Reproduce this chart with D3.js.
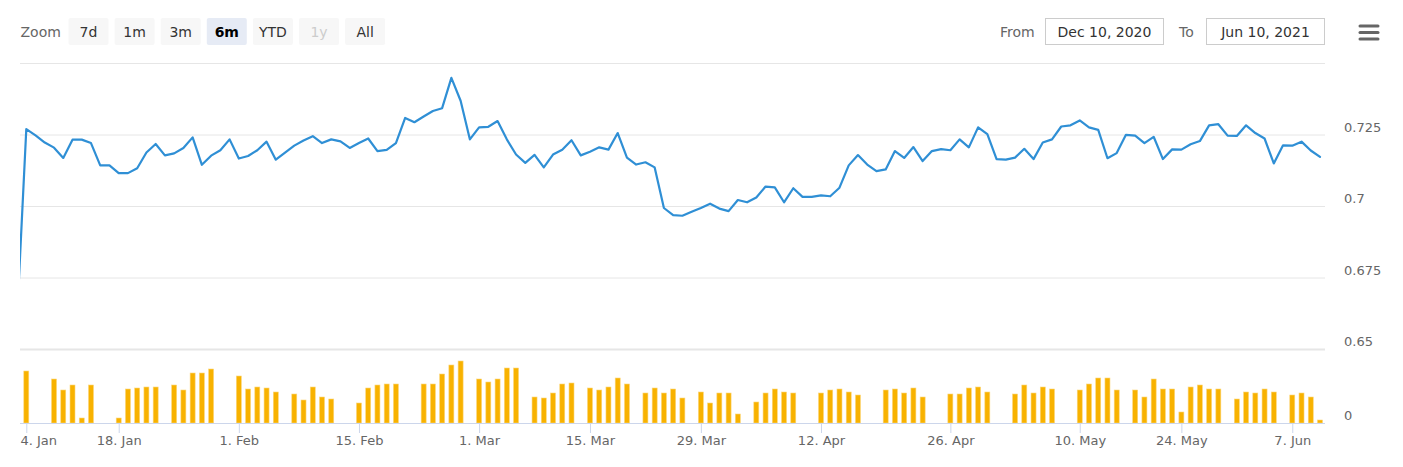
<!DOCTYPE html>
<html>
<head>
<meta charset="utf-8">
<script src="https://cdn.jsdelivr.net/npm/d3@7"></script>
<style>
  body { margin: 0; background: #fff; }
  .main svg { display: block; font-family: "DejaVu Sans", Verdana, sans-serif; }
</style>
</head>
<body>
<div class="main"></div>
<script>
const width = 1403;
const height = 467;
const plot = ({left: 20, right: 1325, top: 62, bottom: 423})

// range selector
const zoomButtons = ['7d', '1m', '3m', '6m', 'YTD', '1y', 'All'];
const selectedButton = '6m';
const disabledButton = '1y';
const dateFrom = 'Dec 10, 2020';
const dateTo = 'Jun 10, 2021';

// x axis (ordinal: one slot per data point, slot 0 is the clipped lead point)
const tickSlots = [1, 11, 24, 37, 50, 62, 74, 87, 101, 115, 126, 138];
const tickLabels = ['4. Jan', '18. Jan', '1. Feb', '15. Feb', '1. Mar', '15. Mar', '29. Mar', '12. Apr', '26. Apr', '10. May', '24. May', '7. Jun'];

// price axis
const priceTicks = [0.65, 0.675, 0.7, 0.725, 0.75];
const priceLabels = ['0.65', '0.675', '0.7', '0.725', ''];

// closing rate per slot
const rate = [
  0.661,
  0.7269, 0.7247, 0.7222, 0.7204, 0.7168, 0.7232, 0.7232, 0.7220, 0.7142, 0.7142,
  0.7115, 0.7115, 0.7132, 0.7187, 0.7217, 0.7177, 0.7184, 0.7203, 0.7240, 0.7144,
  0.7176, 0.7195, 0.7233, 0.7166, 0.7175, 0.7195, 0.7225, 0.7162, 0.7187, 0.7211,
  0.7229, 0.7244, 0.7220, 0.7233, 0.7226, 0.7203, 0.7220, 0.7236, 0.7192, 0.7196,
  0.7220, 0.7308, 0.7293, 0.7313, 0.7332, 0.7342, 0.7448, 0.7368, 0.7233, 0.7275,
  0.7277, 0.7297, 0.7233, 0.7180, 0.7151, 0.7179, 0.7135, 0.7180, 0.7197, 0.7230,
  0.7177, 0.7190, 0.7205, 0.7197, 0.7255, 0.7169, 0.7145, 0.7153, 0.7135, 0.6993,
  0.6968, 0.6966, 0.6980, 0.6993, 0.7008, 0.6991, 0.6982, 0.7021, 0.7013, 0.7030,
  0.7068, 0.7065, 0.7013, 0.7062, 0.7032, 0.7032, 0.7037, 0.7034, 0.7064, 0.7142,
  0.7178, 0.7145, 0.7122, 0.7128, 0.7192, 0.7168, 0.7206, 0.7157, 0.7192, 0.7199,
  0.7195, 0.7233, 0.7205, 0.7275, 0.7251, 0.7164, 0.7162, 0.7169, 0.7200, 0.7164,
  0.7222, 0.7233, 0.7278, 0.7282, 0.7299, 0.7275, 0.7266, 0.7167, 0.7185, 0.7249,
  0.7246, 0.7220, 0.7242, 0.7164, 0.7198, 0.7197, 0.7216, 0.7227, 0.7282, 0.7286,
  0.7246, 0.7245, 0.7282, 0.7255, 0.7236, 0.7149, 0.7212, 0.7211, 0.7225, 0.7194,
  0.7172
];

// volume per slot (0 = no bar)
const volume = [
  0,
  52, 0, 0, 44, 33, 38, 5, 38, 0, 0,
  5, 34, 35, 36, 36, 0, 38, 33, 50, 50,
  54, 0, 0, 47, 34, 36, 35, 31, 0, 29,
  23, 36, 26, 24, 0, 0, 20, 35, 38, 39,
  39, 0, 0, 39, 39, 49, 58, 62, 0, 44,
  41, 44, 55, 55, 0, 26, 25, 30, 39, 40,
  0, 35, 33, 36, 45, 39, 0, 30, 35, 30,
  34, 25, 0, 31, 20, 30, 30, 9, 0, 21,
  30, 34, 31, 30, 0, 0, 30, 33, 34, 31,
  28, 0, 0, 33, 34, 30, 35, 26, 0, 0,
  29, 29, 35, 36, 31, 0, 0, 29, 38, 30,
  36, 34, 0, 0, 33, 39, 45, 45, 33, 0,
  33, 26, 44, 34, 34, 11, 36, 38, 34, 34,
  0, 24, 31, 30, 34, 31, 0, 28, 30, 26,
  3
];

const svg = d3.select('.main')
  .append('svg')
  .attr('width', width)
  .attr('height', height);

// ---- range selector buttons
svg.append('text')
  .attr('x', 20.5)
  .attr('y', 37)
  .style('font-size', '14px')
  .style('fill', '#666')
  .text('Zoom');

const btn = svg.append('g')
  .selectAll('g')
  .data(zoomButtons)
  .enter()
  .append('g')
  .attr('transform', (d, i) => `translate(${68.5 + i * 46.1}, 18)`);

btn.append('rect')
  .attr('width', 40)
  .attr('height', 27)
  .attr('rx', 2)
  .style('fill', d => d === selectedButton ? '#e6ebf5' : '#f7f7f7');

btn.append('text')
  .attr('x', 20)
  .attr('y', 18.5)
  .attr('text-anchor', 'middle')
  .style('font-size', '14px')
  .style('font-weight', d => d === selectedButton ? 'bold' : 'normal')
  .style('fill', d => d === selectedButton ? '#000' : d === disabledButton ? '#ccc' : '#333')
  .text(d => d);

// ---- date inputs
const inputs = [
  {label: 'From', value: dateFrom, lx: 1000, bx: 1045.5, bw: 118},
  {label: 'To', value: dateTo, lx: 1179, bx: 1206.5, bw: 118}
];

svg.append('g')
  .selectAll('text')
  .data(inputs)
  .enter()
  .append('text')
  .attr('x', d => d.lx)
  .attr('y', 36.5)
  .style('font-size', '14px')
  .style('fill', '#666')
  .text(d => d.label);

const box = svg.append('g')
  .selectAll('g')
  .data(inputs)
  .enter()
  .append('g')
  .attr('transform', d => `translate(${d.bx}, 18.5)`);

box.append('rect')
  .attr('width', d => d.bw)
  .attr('height', 26)
  .style('fill', '#fff')
  .style('stroke', '#ccc');

box.append('text')
  .attr('x', d => d.bw / 2)
  .attr('y', 18)
  .attr('text-anchor', 'middle')
  .style('font-size', '14px')
  .style('fill', '#333')
  .text(d => d.value);

// ---- export menu icon
svg.append('g')
  .selectAll('rect')
  .data([0, 1, 2])
  .enter()
  .append('rect')
  .attr('x', 1358.5)
  .attr('y', d => 24.5 + d * 6.5)
  .attr('width', 21)
  .attr('height', 3)
  .attr('rx', 1.5)
  .style('fill', '#666');

// ---- scales
const x = d3.scaleLinear()
  .domain([0, rate.length - 1])
  .range([17.06, 1320]);

const y = d3.scaleLinear()
  .domain([0.65, 0.75])
  .range([349, 63]);

const yVol = d3.scaleLinear()
  .domain([0, 70])
  .range([plot.bottom, plot.bottom - 70]);

// ---- price gridlines and labels
const yAxis = svg.append('g')
  .attr('transform', `translate(${plot.right}, 0)`)
  .call(d3.axisRight(y)
    .tickValues(priceTicks)
    .tickSizeInner(-(plot.right - plot.left))
    .tickSizeOuter(0)
    .tickPadding(19)
    .tickFormat((d, i) => priceLabels[i]));

yAxis.select('.domain').remove();
yAxis.selectAll('.tick line')
  .style('stroke', '#e6e6e6')
  .style('stroke-width', d => d === 0.65 ? 2 : 1);
yAxis.selectAll('.tick text')
  .attr('dy', null)
  .attr('y', -3.5)
  .style('font-size', '13px')
  .style('font-family', '"DejaVu Sans", Verdana, sans-serif')
  .style('fill', '#666');

// volume axis, only the zero label
const vAxis = svg.append('g')
  .attr('transform', `translate(${plot.right}, 0)`)
  .call(d3.axisRight(yVol).tickValues([0]).tickSize(0).tickPadding(19));

vAxis.select('.domain').remove();
vAxis.selectAll('.tick text')
  .attr('dy', null)
  .attr('y', -3.5)
  .style('font-size', '13px')
  .style('font-family', '"DejaVu Sans", Verdana, sans-serif')
  .style('fill', '#666');

// ---- clip to plot area
svg.append('clipPath')
  .attr('id', 'plot-clip')
  .append('rect')
  .attr('x', plot.left)
  .attr('y', plot.top - 10)
  .attr('width', plot.right - plot.left)
  .attr('height', plot.bottom - plot.top + 10);

// ---- volume bars
svg.append('g')
  .attr('clip-path', 'url(#plot-clip)')
  .selectAll('rect')
  .data(volume.map((v, i) => ({slot: i, v: v})).filter(d => d.v > 0))
  .enter()
  .append('rect')
  .attr('x', d => x(d.slot) - 2.5)
  .attr('width', 5)
  .attr('y', d => yVol(d.v))
  .attr('height', d => yVol(0) - yVol(d.v))
  .style('fill', '#f8b200')
  .style('stroke', '#fcd67a')
  .style('stroke-width', 0.6);

// ---- x axis
svg.append('line')
  .attr('x1', plot.left)
  .attr('x2', plot.right)
  .attr('y1', plot.bottom + 0.5)
  .attr('y2', plot.bottom + 0.5)
  .style('stroke', '#ccd6eb');

const xAxis = svg.append('g')
  .attr('transform', `translate(0, ${plot.bottom})`)
  .call(d3.axisBottom(x)
    .tickValues(tickSlots)
    .tickFormat((d, i) => tickLabels[i])
    .tickSizeInner(10)
    .tickSizeOuter(0)
    .tickPadding(2.5));

xAxis.select('.domain').remove();
xAxis.selectAll('.tick line').style('stroke', '#ccd6eb');
xAxis.selectAll('.tick text')
  .style('font-size', '13px')
  .style('font-family', '"DejaVu Sans", Verdana, sans-serif')
  .style('fill', '#666');

// keep the first label inside the plot, as highcharts does
xAxis.selectAll('.tick text').each(function(d) {
  const w = this.getComputedTextLength();
  const left = x(d) - w / 2;
  if (left < plot.left) d3.select(this).attr('x', plot.left - left);
});

// ---- rate line
svg.append('path')
  .datum(rate)
  .attr('clip-path', 'url(#plot-clip)')
  .attr('d', d3.line()
    .x((d, i) => x(i))
    .y(d => y(d)))
  .style('fill', 'none')
  .style('stroke', '#2f8fd5')
  .style('stroke-width', 2.2)
  .style('stroke-linejoin', 'round')
  .style('stroke-linecap', 'round');
</script>
</body>
</html>
